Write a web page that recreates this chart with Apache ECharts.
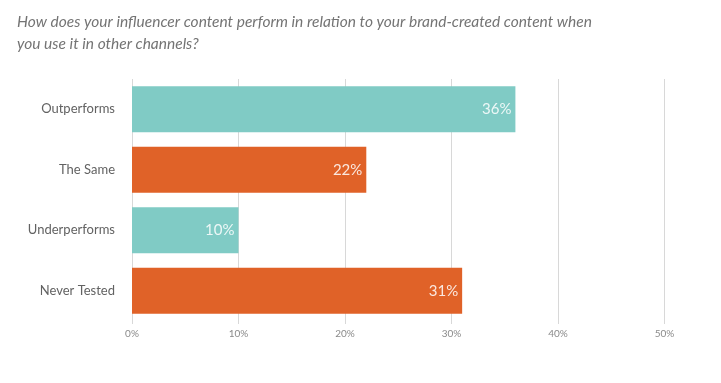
<!DOCTYPE html>
<html>
<head>
<meta charset="utf-8">
<script src="https://cdn.jsdelivr.net/npm/echarts@6/dist/echarts.min.js"></script>
<style>
html,body{margin:0;padding:0;background:#fff;}
#chart{width:721px;height:383px;}
</style>
</head>
<body>
<div id="chart"></div>
<script>
const titleText = "How does your influencer content perform in relation to your brand-created content when\nyou use it in other channels?";
const categories = ["Outperforms", "The Same", "Underperforms", "Never Tested"];
const values = [36, 22, 10, 31];
const barColors = ["#80cbc5", "#e06228", "#80cbc5", "#e06228"];
const xTicks = [0, 10, 20, 30, 40, 50];

const chart = echarts.init(document.getElementById('chart'), null, {renderer: 'canvas'});
chart.setOption({
  animation: false,
  backgroundColor: '#ffffff',
  title: {
    text: titleText,
    left: 12,
    top: 6,
    textStyle: {
      fontFamily: 'Lato',
      fontStyle: 'italic',
      fontWeight: 'normal',
      fontSize: 15.5,
      color: '#747474',
      lineHeight: 22
    }
  },
  grid: {left: 132, right: 56.5, top: 79, bottom: 62, containLabel: false},
  xAxis: {
    type: 'value',
    min: xTicks[0],
    max: xTicks[xTicks.length - 1],
    interval: 10,
    axisLine: {show: false},
    axisTick: {show: true, length: 3, lineStyle: {color: '#d8d8d8'}},
    splitLine: {show: true, lineStyle: {color: '#d8d8d8', width: 1}},
    axisLabel: {
      formatter: v => v + '%',
      fontFamily: 'Lato',
      fontSize: 10,
      color: '#8a8a8a',
      margin: 8
    }
  },
  yAxis: {
    type: 'category',
    inverse: true,
    data: categories,
    axisLine: {show: false},
    axisTick: {show: false},
    axisLabel: {
      fontFamily: 'Lato',
      fontSize: 13,
      color: '#626262',
      margin: 17
    }
  },
  series: [{
    type: 'bar',
    barWidth: 46,
    data: values.map((v, i) => ({value: v, itemStyle: {color: barColors[i]}})),
    label: {
      show: true,
      position: 'insideRight',
      distance: 4,
      formatter: p => p.value + '%',
      fontFamily: 'Lato',
      fontSize: 15,
      color: 'rgba(255,255,255,0.85)'
    }
  }]
});
</script>
</body>
</html>
